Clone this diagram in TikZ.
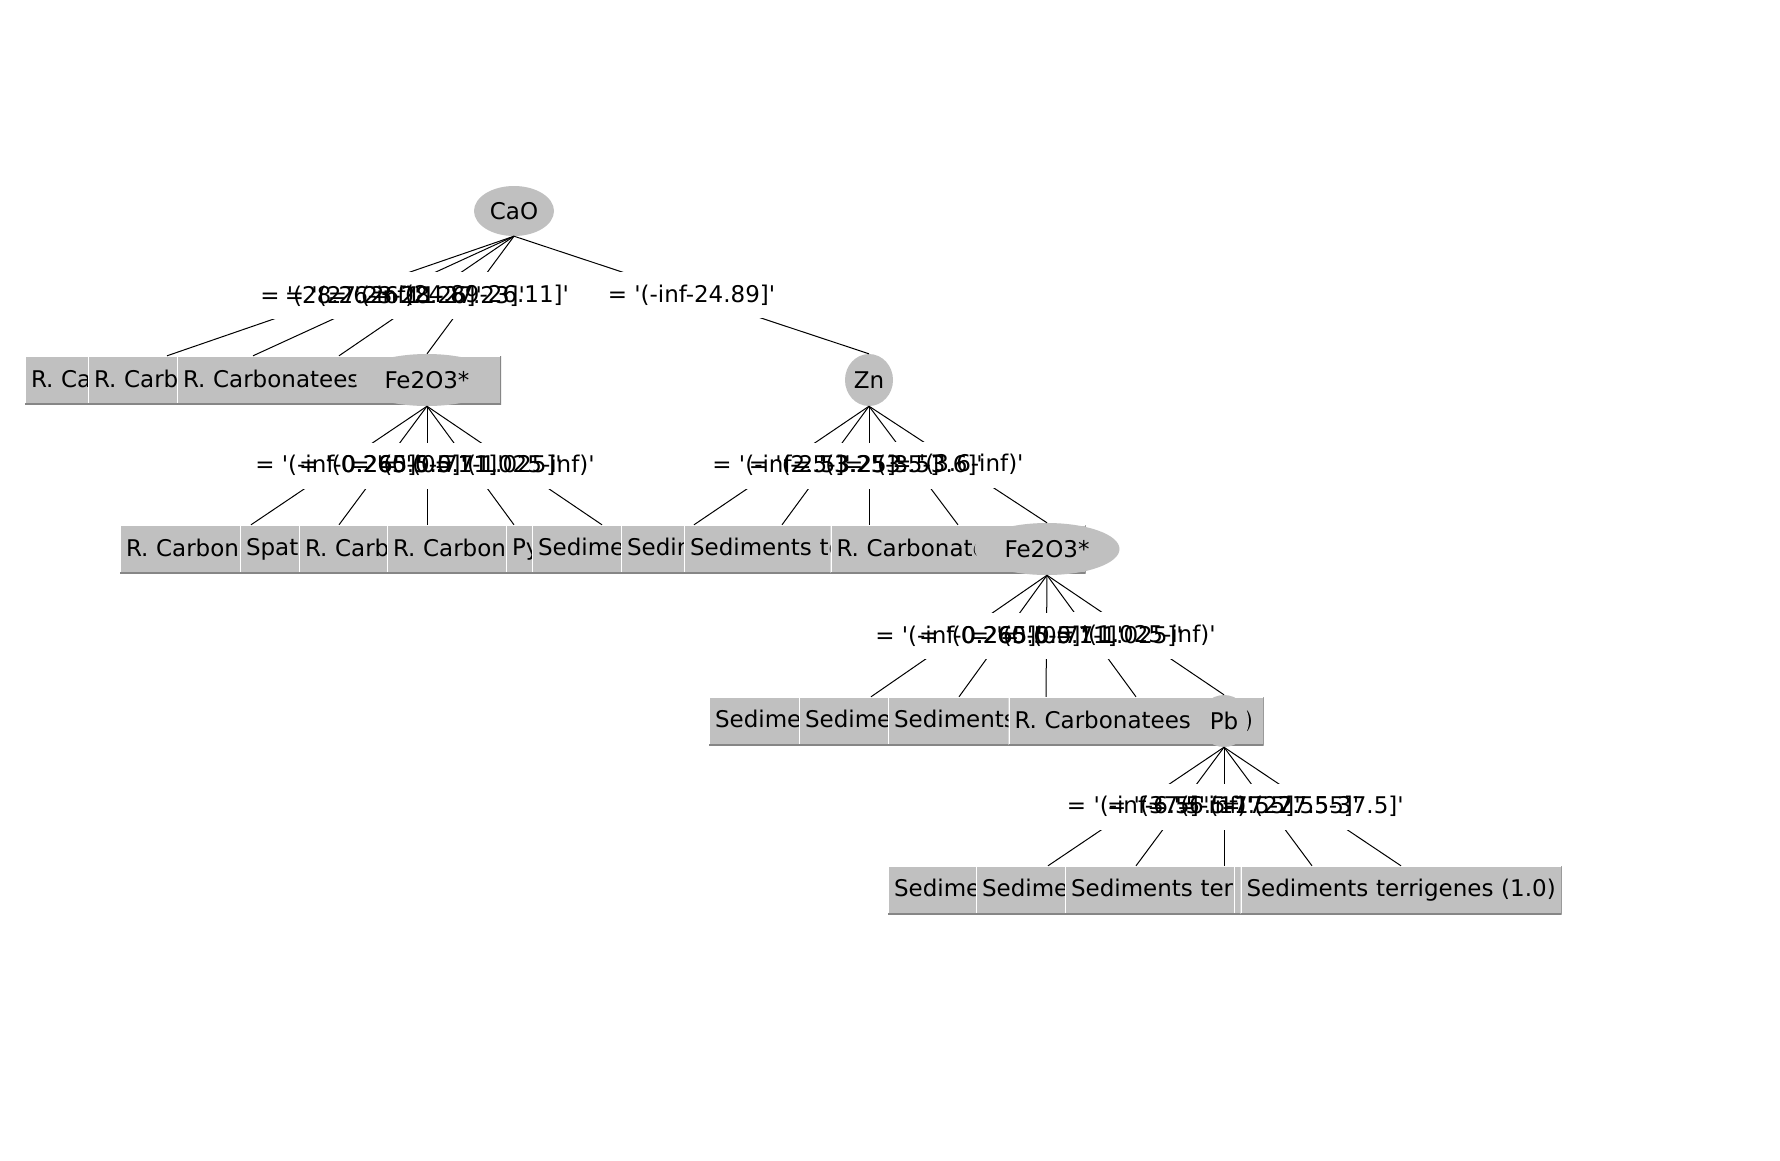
\documentclass[tikz,border=0pt]{standalone}
\usepackage{fontspec}
\setmainfont{DejaVu Sans}[Ligatures=TeXOff]
\usepackage{tikz}
\usetikzlibrary{shapes.geometric}
\definecolor{nodegray}{RGB}{192,192,192}
\definecolor{shadegray}{RGB}{134,134,134}
\tikzset{
  leaf/.style={rectangle, fill=nodegray, minimum height=48,
    inner xsep=6, inner ysep=0, align=left,
    execute at begin node={\leavevmode\hbox\bgroup},
    execute at end node={\egroup},
    path picture={
      \draw[white, line width=2] (path picture bounding box.south west)
        -- (path picture bounding box.north west) -- (path picture bounding box.north east);
      \draw[shadegray, line width=2] (path picture bounding box.south west)
        -- (path picture bounding box.south east) -- (path picture bounding box.north east);
    }},
  splitnode/.style={ellipse, fill=nodegray, minimum height=52, inner sep=0},
  link/.style={line width=1pt, color=black},
  lblbg/.style={fill=white, minimum height=46, inner sep=0},
  lbl/.style={inner sep=0}
}
\newcommand{\edgetexts}{a1/{= '(28.26-inf)'}, a2/{= '(27.23-28.26]'},
  a3/{= '(26.11-27.23]'}, fe1/{= '(24.89-26.11]'}, zn/{= '(-inf-24.89]'},
  b1/{= '(-inf-0.265]'}, b2/{= '(0.265-0.5]'}, b3/{= '(0.5-0.71]'},
  b4/{= '(0.71-1.025]'}, b5/{= '(1.025-inf)'},
  c1/{= '(-inf-2.5]'}, c2/{= '(2.5-3.25]'}, c3/{= '(3.25-3.5]'},
  c4/{= '(3.5-3.6]'}, fe2/{= '(3.6-inf)'},
  d1/{= '(-inf-0.265]'}, d2/{= '(0.265-0.5]'}, d3/{= '(0.5-0.71]'},
  d4/{= '(0.71-1.025]'}, pb/{= '(1.025-inf)'},
  e1/{= '(-inf-6.5]'}, e2/{= '(37.5-inf)'}, e3/{= '(6.5-17.5]'},
  e4/{= '(17.5-27.55]'}, e5/{= '(27.55-37.5]'}}

\begin{document}
\begin{tikzpicture}[x=1pt, y=-1pt, font=\fontsize{23}{26}\selectfont]
  % Canvas
  \fill[white] (0,0) rectangle (1780,1160);
  \useasboundingbox (0,0) rectangle (1780,1160);

  % Root
  \node[splitnode, minimum width=80, minimum height=50] (cao) at (514,211) {\makebox[0pt]{CaO}};

  % Level 1
  \node[leaf, text width=272] (a1) at (167,380) {R. Carbonatees (5.0)};
  \node[leaf, text width=318] (a2) at (253,380) {R. Carbonatees (17.0/3.0)};
  \node[leaf, text width=312] (a3) at (339,380) {R. Carbonatees (3.0)};
  \node[splitnode, minimum width=144] (fe1) at (427,380) {\makebox[0pt]{Fe2O3*}};
  \node[splitnode, minimum width=48] (zn) at (869,380) {\makebox[0pt]{Zn}};

  % Level 2
  \node[leaf, text width=250] (b1) at (251,549) {R. Carbonatees (1.0)};
  \node[leaf, text width=186] (b2) at (339,549) {Spathique (2.0)};
  \node[leaf, text width=244] (b3) at (427,549) {R. Carbonatees (8.0)};
  \node[leaf, text width=242] (b4) at (514,549) {R. Carbonatees (6.0)};
  \node[leaf, text width=180] (b5) at (602,549) {Pyrite (3.0/1.0)};
  \node[leaf, text width=312] (c1) at (694,549) {Sediments terrigenes (4.0)};
  \node[leaf, text width=310] (c2) at (782,549) {Sediments terrigenes (2.0)};
  \node[leaf, text width=358] (c3) at (869,549) {Sediments terrigenes (9.0/2.0)};
  \node[leaf, text width=243] (c4) at (958,549) {R. Carbonatees (7.0)};
  \node[splitnode, minimum width=145] (fe2) at (1047,549) {\makebox[0pt]{Fe2O3*}};

  % Level 3
  \node[leaf, text width=312] (d1) at (871,721) {Sediments terrigenes (5.0)};
  \node[leaf, text width=308] (d2) at (959,721) {Sediments terrigenes (9.0)};
  \node[leaf, text width=304] (d3) at (1046,721) {Sediments terrigenes (4.0)};
  \node[leaf, text width=243] (d4) at (1136,721) {R. Carbonatees (1.0)};
  \node[splitnode, minimum width=50] (pb) at (1224,721) {\makebox[0pt]{Pb}};

  % Level 4
  \node[leaf, text width=308] (e1) at (1048,890) {Sediments terrigenes (2.0)};
  \node[leaf, text width=308] (e2) at (1136,890) {Sediments terrigenes (6.0)};
  \node[leaf, text width=306] (e3) at (1224,890) {Sediments terrigenes (3.0)};
  \node[leaf, text width=144] (e4) at (1312,890) {Pyrite (1.0)};
  \node[leaf, text width=309] (e5) at (1401,890) {Sediments terrigenes (1.0)};

  % Edges
  \draw[link] (cao.south) -- coordinate (m-a1) (a1.north);
  \draw[link] (cao.south) -- coordinate (m-a2) (a2.north);
  \draw[link] (cao.south) -- coordinate (m-a3) (a3.north);
  \draw[link] (cao.south) -- coordinate (m-fe1) (fe1.north);
  \draw[link] (cao.south) -- coordinate (m-zn) (zn.north);
  \draw[link] (fe1.south) -- coordinate (m-b1) (b1.north);
  \draw[link] (fe1.south) -- coordinate (m-b2) (b2.north);
  \draw[link] (fe1.south) -- coordinate (m-b3) (b3.north);
  \draw[link] (fe1.south) -- coordinate (m-b4) (b4.north);
  \draw[link] (fe1.south) -- coordinate (m-b5) (b5.north);
  \draw[link] (zn.south) -- coordinate (m-c1) (c1.north);
  \draw[link] (zn.south) -- coordinate (m-c2) (c2.north);
  \draw[link] (zn.south) -- coordinate (m-c3) (c3.north);
  \draw[link] (zn.south) -- coordinate (m-c4) (c4.north);
  \draw[link] (zn.south) -- coordinate (m-fe2) (fe2.north);
  \draw[link] (fe2.south) -- coordinate (m-d1) (d1.north);
  \draw[link] (fe2.south) -- coordinate (m-d2) (d2.north);
  \draw[link] (fe2.south) -- coordinate (m-d3) (d3.north);
  \draw[link] (fe2.south) -- coordinate (m-d4) (d4.north);
  \draw[link] (fe2.south) -- coordinate (m-pb) (pb.north);
  \draw[link] (pb.south) -- coordinate (m-e1) (e1.north);
  \draw[link] (pb.south) -- coordinate (m-e2) (e2.north);
  \draw[link] (pb.south) -- coordinate (m-e3) (e3.north);
  \draw[link] (pb.south) -- coordinate (m-e4) (e4.north);
  \draw[link] (pb.south) -- coordinate (m-e5) (e5.north);

  % Edge labels: white cut-outs first, then the texts on top
  \foreach \e/\t in \edgetexts
    \node[lblbg] (w-\e) at (m-\e) {\phantom{\t}};
  \foreach \e/\t in \edgetexts
    \node[lbl] (l-\e) at (m-\e) {\t};
\end{tikzpicture}
\end{document}
